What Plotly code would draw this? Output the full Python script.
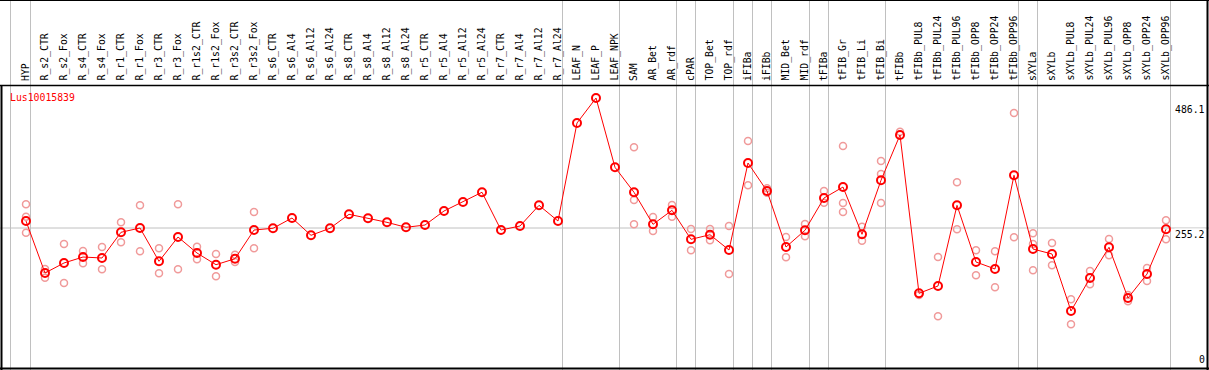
import plotly.graph_objects as go

categories = ["HYP", "R_s2_CTR", "R_s2_Fox", "R_s4_CTR", "R_s4_Fox", "R_r1_CTR", "R_r1_Fox",
              "R_r3_CTR", "R_r3_Fox", "R_r1s2_CTR", "R_r1s2_Fox", "R_r3s2_CTR", "R_r3s2_Fox",
              "R_s6_CTR", "R_s6_Al4", "R_s6_Al12", "R_s6_Al24", "R_s8_CTR", "R_s8_Al4", "R_s8_Al12",
              "R_s8_Al24", "R_r5_CTR", "R_r5_Al4", "R_r5_Al12", "R_r5_Al24", "R_r7_CTR", "R_r7_Al4",
              "R_r7_Al12", "R_r7_Al24", "LEAF_N", "LEAF_P", "LEAF_NPK", "SAM", "AR_Bet", "AR_rdf",
              "cPAR", "TOP_Bet", "TOP_rdf", "iFIBa", "iFIBb", "MID_Bet", "MID_rdf", "tFIBa",
              "tFIB_Gr", "tFIB_Li", "tFIB_Bi", "tFIBb", "tFIBb_PUL8", "tFIBb_PUL24", "tFIBb_PUL96",
              "tFIBb_OPP8", "tFIBb_OPP24", "tFIBb_OPP96", "sXYLa", "sXYLb", "sXYLb_PUL8",
              "sXYLb_PUL24", "sXYLb_PUL96", "sXYLb_OPP8", "sXYLb_OPP24", "sXYLb_OPP96"]

mean_values = [268.1, 172.1, 190.6, 201.6, 199.8, 247.3, 255.2, 193.7, 238.6, 209.0, 187.4, 198.5, 251.5,
               254.7, 273.7, 241.7, 254.7, 280.5, 273.1, 265.7, 256.5, 260.7, 286.6, 303.2, 321.2,
               251.5, 258.9, 297.1, 268.1, 449.2, 495.3, 367.3, 321.2, 262.0, 287.9, 234.3, 242.8,
               214.6, 375.3, 323.6, 220.1, 251.0, 310.6, 330.9, 243.6, 343.3, 427.0, 134.6, 148.1,
               297.1, 192.4, 179.5, 352.6, 216.4, 207.2, 101.9, 162.8, 219.6, 125.9, 170.2, 252.8]

replicate_values = [
    [299.0, 276.1, 246.5], [179.5, 163.4], [225.7, 153.6], [212.7, 190.0], [220.1, 178.9],
    [265.7, 228.8], [297.1, 212.2], [217.7, 171.5], [299.0, 178.9], [220.7, 197.4],
    [207.2, 166.0], [205.9, 192.4], [284.8, 217.7],
    [], [], [], [], [], [], [], [], [], [], [], [], [], [], [], [], [], [], [],
    [404.3, 306.9, 262.0], [275.5, 249.7], [297.7, 276.1], [253.4, 214.0], [253.4, 232.5],
    [258.9, 170.2], [415.9, 334.1], [328.5, 320.4], [238.6, 201.1], [262.6, 239.9],
    [323.6, 301.9], [406.7, 301.4, 284.8], [257.6, 231.7], [379.0, 355.0, 301.4],
    [433.1], [131.4], [201.6, 92.1], [339.6, 252.8], [214.0, 167.8], [212.2, 145.7],
    [467.6, 238.0], [245.4, 225.7, 177.1], [227.5, 186.3], [123.5, 77.3], [175.8, 151.2],
    [234.9, 204.8], [131.4, 119.8], [181.3, 157.3], [269.4, 234.3]]

group_ends = ["HYP", "R_r7_Al24", "LEAF_NPK", "AR_rdf", "cPAR", "TOP_rdf", "iFIBa", "iFIBb",
              "MID_rdf", "tFIBa", "tFIB_Bi", "tFIBb_OPP96", "sXYLa", "sXYLb_OPP96"]

title_text = "Lus10015839"
ref_value = 255.2
tick_values = [486.1, 255.2, 0]
tick_labels = ["486.1", "255.2", "0"]

W, H = 1209, 370
FONT = "DejaVu Sans Mono"
FS = 9.8
X0 = 26.0
DX = 19.0
xr = [-X0 / DX, (W - X0) / DX]
yr = [-7.09, 676.4]


def py(p):
    return 1 - p / H


def px(p):
    return p / W


fig = go.Figure()

rx, ry = [], []
for c, vals in zip(categories, replicate_values):
    for v in vals:
        rx.append(c)
        ry.append(v)

fig.add_trace(go.Scatter(x=rx, y=ry, mode="markers",
                         marker=dict(symbol="circle-open", size=7, color="#f09a9a",
                                     line=dict(width=1.5, color="#f09a9a")),
                         hoverinfo="skip", showlegend=False))
fig.add_trace(go.Scatter(x=categories, y=mean_values, mode="lines+markers",
                         line=dict(color="#ff0000", width=1),
                         marker=dict(symbol="circle-open", size=8, color="#ff0000",
                                     line=dict(width=2, color="#ff0000")),
                         hoverinfo="skip", showlegend=False))

shapes = []
sep_off = 4.5 / DX
shapes.append(dict(type="line", xref="x", yref="paper", x0=-0.816, x1=-0.816, y0=0, y1=1,
                   line=dict(color="#c0c0c0", width=1), layer="below"))
for g in group_ends:
    xi = categories.index(g) + sep_off
    shapes.append(dict(type="line", xref="x", yref="paper", x0=xi, x1=xi, y0=0, y1=1,
                       line=dict(color="#c0c0c0", width=1), layer="below"))
shapes.append(dict(type="line", xref="x", yref="y", x0=xr[0], x1=xr[1], y0=ref_value, y1=ref_value,
                   line=dict(color="#c0c0c0", width=1), layer="below"))
blk = dict(color="#000000", width=1)
shapes += [
    dict(type="line", xref="paper", yref="paper", x0=0, x1=1, y0=py(0.5), y1=py(0.5), line=blk),
    dict(type="line", xref="paper", yref="paper", x0=0, x1=1, y0=py(85.5), y1=py(85.5), line=dict(color="#000", width=1.3)),
    dict(type="line", xref="paper", yref="paper", x0=0, x1=1, y0=py(368.5), y1=py(368.5), line=dict(color="#000", width=2)),
    dict(type="line", xref="paper", yref="paper", x0=px(1.5), x1=px(1.5), y0=py(85), y1=0, line=dict(color="#000", width=2)),
    dict(type="line", xref="paper", yref="paper", x0=px(1207.5), x1=px(1207.5), y0=0, y1=1, line=dict(color="#000", width=2)),
]

annotations = []
for c in categories:
    annotations.append(dict(x=c, xref="x", y=py(82), yref="paper", text=c, textangle=-90,
                            xanchor="center", yanchor="bottom", showarrow=False,
                            font=dict(family=FONT, size=FS, color="#000000"), borderpad=0))
annotations.append(dict(x=px(9), xref="paper", y=py(98), yref="paper", text=title_text,
                        xanchor="left", yanchor="middle", showarrow=False, borderpad=0,
                        font=dict(family=FONT, size=FS, color="#ff0000")))
for v, t in zip(tick_values, tick_labels):
    annotations.append(dict(x=px(1206), xref="paper", y=v, yref="y", text=t,
                            xanchor="right", yanchor="bottom" if v == 0 else "top",
                            showarrow=False, borderpad=0, bgcolor="#ffffff",
                            font=dict(family=FONT, size=FS, color="#000000")))

fig.update_layout(
    width=W, height=H, margin=dict(l=0, r=0, t=0, b=0),
    paper_bgcolor="#ffffff", plot_bgcolor="#ffffff",
    xaxis=dict(type="category", categoryorder="array", categoryarray=categories,
               range=xr, visible=False, fixedrange=True),
    yaxis=dict(range=yr, visible=False, fixedrange=True),
    shapes=shapes, annotations=annotations, showlegend=False,
)

fig.write_html("out.html", config={"displayModeBar": False},
               post_script="document.body.style.margin='0';document.body.style.overflow='hidden';")
